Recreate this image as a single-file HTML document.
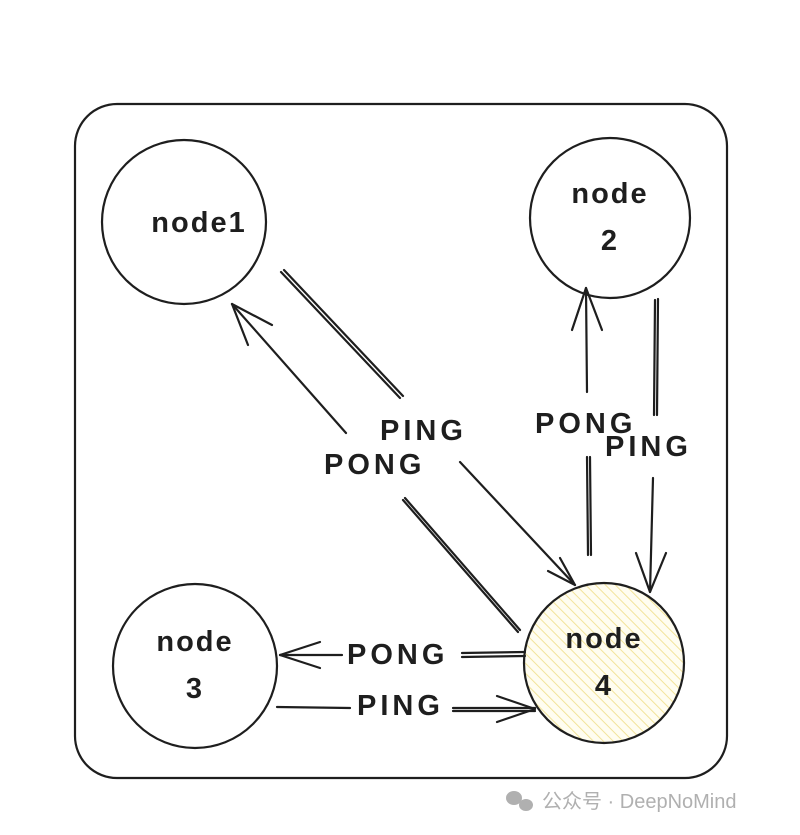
<!DOCTYPE html>
<html><head><meta charset="utf-8"><style>
html,body{margin:0;padding:0;background:#fff;width:800px;height:835px;overflow:hidden}
svg text{font-family:"Liberation Sans","Noto Sans CJK SC",sans-serif}
</style></head><body>
<svg width="800" height="835" viewBox="0 0 800 835" xmlns="http://www.w3.org/2000/svg">
<defs>
<pattern id="h" width="7" height="7" patternUnits="userSpaceOnUse" patternTransform="rotate(-45)">
<rect width="7" height="7" fill="#fffdf0"/>
<line x1="0" y1="0" x2="0" y2="7" stroke="#f2e39a" stroke-width="2"/>
</pattern>
</defs>
<g fill="none" stroke="#1e1e1e" stroke-width="2.2" stroke-linecap="round">
<rect x="75" y="104" width="652" height="674" rx="42"/>
<circle cx="184" cy="222" r="82"/>
<circle cx="610" cy="218" r="80"/>
<circle cx="195" cy="666" r="82"/>
<circle cx="604" cy="663" r="80" fill="url(#h)"/>
<path d="M281 272 L400 398 M284 270 L403 396 M460 462 L575 585"/>
<path d="M575 585 L548 571 M575 585 L560 558"/>
<path d="M346 433 L232 304 M520 630 L405 498 M518 632 L403 500"/>
<path d="M232 304 L272 325 M232 304 L248 345"/>
<path d="M588 555 L587 457 M591 555 L590 457 M587 392 L586 288"/>
<path d="M586 288 L572 330 M586 288 L602 330"/>
<path d="M655 300 L654 415 M658 299 L657 415 M653 478 L650 592"/>
<path d="M650 592 L636 553 M650 592 L666 553"/>
<path d="M525 652 L462 653 M525 656 L462 657 M342 655 L280 655"/>
<path d="M280 655 L320 642 M280 655 L320 668"/>
<path d="M277 707 L350 708 M453 708 L535 708 M453 711 L535 711"/>
<path d="M535 709 L497 696 M535 709 L497 722"/>
</g>
<g fill="#1e1e1e" font-size="29" font-weight="bold" text-anchor="middle" letter-spacing="2">
<text x="199" y="232">node1</text>
<text x="610" y="203">node</text>
<text x="610" y="250">2</text>
<text x="195" y="651">node</text>
<text x="195" y="698">3</text>
<text x="604" y="648">node</text>
<text x="604" y="695">4</text>
</g>
<g fill="#1e1e1e" font-size="29" font-weight="bold" letter-spacing="4">
<text x="380" y="440">PING</text>
<text x="324" y="474">PONG</text>
<text x="535" y="433">PONG</text>
<text x="605" y="456">PING</text>
<text x="347" y="664">PONG</text>
<text x="357" y="715">PING</text>
</g>
<g fill="#b0b0b0">
<ellipse cx="514" cy="798" rx="8" ry="7"/>
<ellipse cx="526" cy="805" rx="7" ry="6"/>
<text x="542" y="808" font-size="20">公众号 · DeepNoMind</text>
</g>
</svg>
</body></html>
